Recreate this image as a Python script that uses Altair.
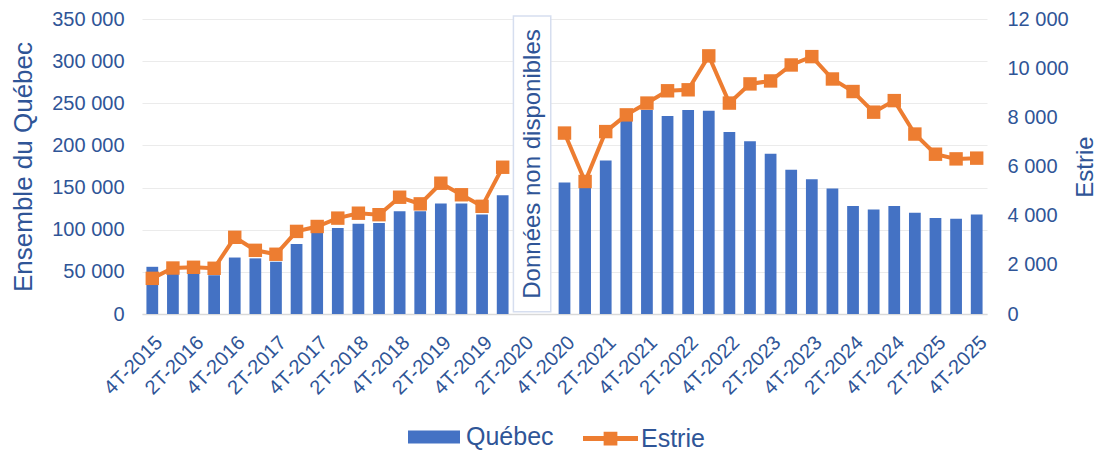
import altair as alt
import pandas as pd

quarters = [
    "4T-2015", "1T-2016", "2T-2016", "3T-2016", "4T-2016",
    "1T-2017", "2T-2017", "3T-2017", "4T-2017",
    "1T-2018", "2T-2018", "3T-2018", "4T-2018",
    "1T-2019", "2T-2019", "3T-2019", "4T-2019",
    "1T-2020", "2T-2020", "3T-2020", "4T-2020",
    "1T-2021", "2T-2021", "3T-2021", "4T-2021",
    "1T-2022", "2T-2022", "3T-2022", "4T-2022",
    "1T-2023", "2T-2023", "3T-2023", "4T-2023",
    "1T-2024", "2T-2024", "3T-2024", "4T-2024",
    "1T-2025", "2T-2025", "3T-2025", "4T-2025",
]

quebec = [
    56000, 49000, 48000, 46000, 67000,
    66000, 62000, 83000, 96000,
    102000, 107000, 108000, 122000,
    122000, 131000, 131000, 118000,
    141000, None, None, 156000,
    152000, 182000, 229000, 242000,
    235000, 242000, 241000, 216000,
    205000, 190000, 171000, 160000,
    149000, 128000, 124000, 128000,
    120000, 114000, 113000, 118000,
]

estrie = [
    1450, 1870, 1900, 1860, 3120,
    2590, 2430, 3360, 3560,
    3900, 4100, 4040, 4750,
    4480, 5320, 4850, 4380,
    5970, None, None, 7360,
    5390, 7420, 8100, 8580,
    9080, 9120, 10500, 8580,
    9360, 9480, 10130, 10470,
    9560, 9050, 8210, 8680,
    7320, 6500, 6310, 6340,
]

label_quarters = quarters[::2]
left_ticks = [0, 50000, 100000, 150000, 200000, 250000, 300000, 350000]
right_ticks = [0, 2000, 4000, 6000, 8000, 10000, 12000]

gap_start = "2T-2020"
gap_end = "3T-2020"
gap_text = "Données non disponibles"

BLUE = "#4472C4"
ORANGE = "#ED7D31"
TXT = "#2F5597"
FONT = "Liberation Sans"
GRID = "#EBEBEB"

gap_idx = quarters.index(gap_start)
segs = [0 if i < gap_idx else 1 for i in range(len(quarters))]

df = pd.DataFrame({
    "quarter": quarters,
    "quebec": quebec,
    "estrie": estrie,
    "seg": segs,
    "sq": ["Québec"] * len(quarters),
    "se": ["Estrie"] * len(quarters),
})

ann = pd.DataFrame({
    "q0": [gap_start],
    "q1": [gap_end],
    "lo": [2700],
    "hi": [353500],
    "mid": [178000],
    "txt": [gap_text],
})

x_scale = alt.Scale(domain=quarters, paddingInner=0.43, paddingOuter=0.215)
left_scale = alt.Scale(domain=[0, 350000], nice=False)
right_scale = alt.Scale(domain=[0, 12000], nice=False)
fmt = "replace(format(datum.value, ','), ',', ' ')"

x_axis = alt.Axis(values=label_quarters, labelAngle=-45, title=None,
                  ticks=False, grid=False, domainColor="#D9D9D9",
                  domainWidth=1.5, labelFontSize=20, labelColor=TXT,
                  labelFont=FONT, labelPadding=18)
left_axis = alt.Axis(orient="left", values=left_ticks, labelExpr=fmt,
                     title="Ensemble du Québec", grid=True, gridColor=GRID,
                     gridWidth=1.2, domain=False, ticks=False,
                     labelFontSize=20, labelColor=TXT, labelFont=FONT,
                     labelPadding=18, titleFontSize=26, titleColor=TXT,
                     titleFont=FONT, titleFontWeight="normal",
                     titlePadding=15)
right_axis = alt.Axis(orient="right", values=right_ticks, labelExpr=fmt,
                      title="Estrie", grid=False, domain=False, ticks=False,
                      labelFontSize=20, labelColor=TXT, labelFont=FONT,
                      labelPadding=20, titleFontSize=24, titleColor=TXT,
                      titleFont=FONT, titleFontWeight="normal",
                      titleAngle=270, titlePadding=29)

bars = alt.Chart(df).mark_bar().encode(
    x=alt.X("quarter:N", scale=x_scale, sort=None, axis=x_axis),
    y=alt.Y("quebec:Q", scale=left_scale, axis=left_axis),
    color=alt.Color("sq:N", scale=alt.Scale(domain=["Québec"], range=[BLUE]),
                    legend=alt.Legend(orient="none", legendX=266, legendY=392,
                                      title=None,
                                      symbolType="M-1,-0.25H1V0.25H-1Z",
                                      symbolSize=2704, symbolStrokeWidth=0,
                                      labelFontSize=25, labelColor=TXT,
                                      labelFont=FONT, labelOffset=6, padding=0)),
)

box = alt.Chart(ann).mark_rect(fill="white", stroke="#D6DEEF", strokeWidth=1.5,
                               xOffset=-4, x2Offset=1).encode(
    x=alt.X("q0:N", scale=x_scale, bandPosition=0, axis=x_axis),
    x2=alt.X2("q1:N", bandPosition=1),
    y=alt.Y("lo:Q", scale=left_scale, axis=left_axis),
    y2="hi:Q",
)

txt = alt.Chart(ann).mark_text(angle=270, fontSize=24, font=FONT, color=TXT,
                               align="center", baseline="middle",
                               xOffset=4).encode(
    x=alt.X("q0:N", scale=x_scale, bandPosition=1, axis=x_axis),
    y=alt.Y("mid:Q", scale=left_scale, axis=left_axis),
    text="txt:N",
)

left = alt.layer(bars, box, txt)

line = alt.Chart(df).mark_line(color=ORANGE, strokeWidth=4).encode(
    x=alt.X("quarter:N", scale=x_scale, sort=None, axis=x_axis),
    y=alt.Y("estrie:Q", scale=right_scale, axis=right_axis),
    detail="seg:N",
)

pts = alt.Chart(df).mark_point(shape="square", size=180, opacity=1,
                               filled=True).encode(
    x=alt.X("quarter:N", scale=x_scale, sort=None, axis=x_axis),
    y=alt.Y("estrie:Q", scale=right_scale, axis=right_axis),
    fill=alt.Fill("se:N", scale=alt.Scale(domain=["Estrie"], range=[ORANGE]),
                  legend=alt.Legend(orient="none", legendX=441, legendY=392,
                                    title=None,
                                    symbolType="M-1,-0.09H1V0.09H-1Z M-0.25,-0.25H0.25V0.25H-0.25Z",
                                    symbolSize=3025, symbolStrokeWidth=0,
                                    labelFontSize=25, labelColor=TXT,
                                    labelFont=FONT, labelOffset=3, padding=0)),
)

right = alt.layer(line, pts)

chart = alt.layer(left, right).resolve_scale(y="independent").properties(
    width=845,
    height=295,
    autosize=alt.AutoSizeParams(type="none"),
    padding={"left": 134, "top": 11, "right": 112, "bottom": 137},
    background="white",
).configure_view(stroke=None)

chart.save("out.html", embed_options={"renderer": "svg", "actions": False})
